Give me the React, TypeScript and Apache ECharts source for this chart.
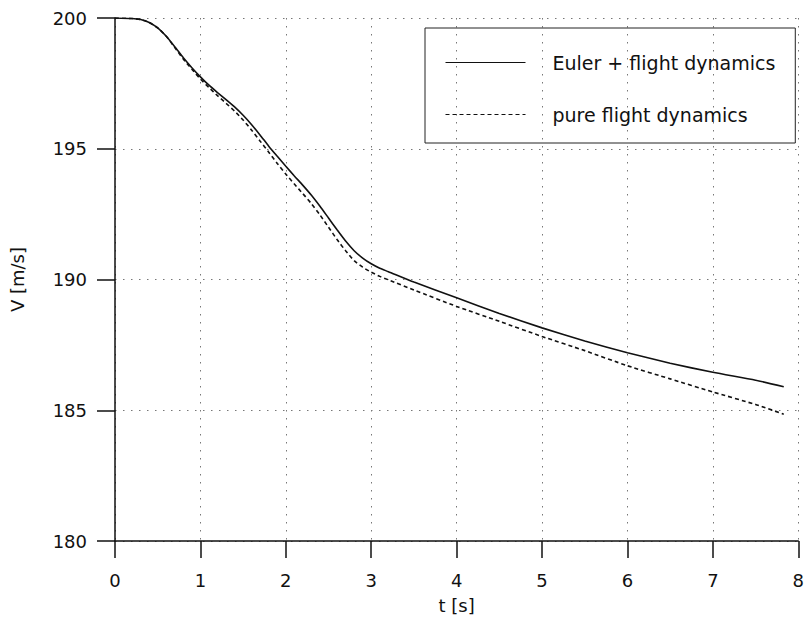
import React, { useEffect, useRef } from "react";
import * as echarts from "echarts";

const tSolid = [0, 0.2, 0.3, 0.4, 0.5, 0.6, 0.7, 0.8, 0.9, 1.0, 1.1, 1.2, 1.3, 1.4, 1.5, 1.6, 1.7, 1.8, 1.9, 2.0, 2.1, 2.2, 2.3, 2.4, 2.5, 2.6, 2.7, 2.8, 2.9, 3.0, 3.1, 3.2, 3.5, 4.0, 4.5, 5.0, 5.5, 6.0, 6.5, 7.0, 7.5, 7.83];
const vSolid = [200, 199.98, 199.94, 199.83, 199.62, 199.3, 198.9, 198.48, 198.1, 197.75, 197.43, 197.15, 196.88, 196.6, 196.28, 195.92, 195.52, 195.1, 194.71, 194.33, 193.96, 193.6, 193.22, 192.8, 192.35, 191.9, 191.47, 191.1, 190.82, 190.6, 190.43, 190.3, 189.9, 189.3, 188.7, 188.15, 187.65, 187.2, 186.8, 186.45, 186.15, 185.9];
const tDashed = [0, 0.2, 0.3, 0.4, 0.5, 0.6, 0.7, 0.8, 0.9, 1.0, 1.1, 1.2, 1.3, 1.4, 1.5, 1.6, 1.7, 1.8, 1.9, 2.0, 2.1, 2.2, 2.3, 2.4, 2.5, 2.6, 2.7, 2.8, 2.9, 3.0, 3.1, 3.2, 3.5, 4.0, 4.5, 5.0, 5.5, 6.0, 6.5, 7.0, 7.5, 7.83];
const vDashed = [200, 199.98, 199.94, 199.83, 199.62, 199.3, 198.87, 198.43, 198.04, 197.67, 197.34, 197.03, 196.74, 196.44, 196.1, 195.71, 195.29, 194.87, 194.44, 194.03, 193.65, 193.28, 192.9, 192.47, 192.0, 191.53, 191.1, 190.72, 190.47, 190.28, 190.12, 189.99, 189.6, 188.97, 188.4, 187.82, 187.28, 186.7, 186.2, 185.7, 185.22, 184.85];
const seriesNames = ["Euler + flight dynamics", "pure flight dynamics"];

const FONT = "DejaVu Sans";

export default function App() {
  const ref = useRef<HTMLDivElement>(null);
  useEffect(() => {
    if (!ref.current) return;
    const chart = echarts.init(ref.current, undefined, { renderer: "svg" });
    const grid = { color: "#777", type: [1.5, 6.5] as any, width: 1 };
    chart.setOption({
      animation: false,
      backgroundColor: "#fff",
      grid: { left: 115, right: 5, top: 18, bottom: 79, containLabel: false },
      legend: {
        left: 425,
        top: 28,
        orient: "vertical",
        padding: [25, 20, 19, 20],
        borderColor: "#222",
        borderWidth: 1,
        itemWidth: 80,
        itemHeight: 17,
        itemGap: 33,
        data: seriesNames,
        lineStyle: { width: 1 },
        itemStyle: { color: "rgba(0,0,0,0)", borderColor: "rgba(0,0,0,0)", borderWidth: 0 },
        textStyle: { fontFamily: FONT, fontSize: 19, color: "#111", padding: [0, 0, 0, 22] },
      },
      xAxis: {
        type: "value",
        min: 0,
        max: 8,
        interval: 1,
        name: "t [s]",
        nameLocation: "middle",
        nameGap: 55,
        nameTextStyle: { fontFamily: FONT, fontSize: 18, color: "#111" },
        axisLine: { show: true, onZero: false, lineStyle: { color: "#111", width: 1.5 } },
        axisTick: { show: true, inside: false, length: 17, lineStyle: { color: "#111", width: 1.5 } },
        axisLabel: { fontFamily: FONT, fontSize: 18, color: "#111", margin: 30 },
        splitLine: { show: true, lineStyle: grid },
      },
      yAxis: {
        type: "value",
        min: 180,
        max: 200,
        interval: 5,
        name: "V [m/s]",
        nameLocation: "middle",
        nameGap: 89,
        nameRotate: 90,
        nameTextStyle: { fontFamily: FONT, fontSize: 18, color: "#111" },
        axisLine: { show: true, onZero: false, lineStyle: { color: "#111", width: 1.5 } },
        axisTick: { show: true, inside: false, length: 18, lineStyle: { color: "#111", width: 1.5 } },
        axisLabel: { fontFamily: FONT, fontSize: 18, color: "#111", margin: 28 },
        splitLine: { show: true, lineStyle: grid },
      },
      series: [
        {
          name: seriesNames[0],
          type: "line",
          data: tSolid.map((t, i) => [t, vSolid[i]]),
          showSymbol: false,
          symbol: "none",
          smooth: 0.2,
          lineStyle: { color: "#111", width: 1.6, type: "solid" },
          itemStyle: { color: "#111" },
        },
        {
          name: seriesNames[1],
          type: "line",
          data: tDashed.map((t, i) => [t, vDashed[i]]),
          showSymbol: false,
          symbol: "none",
          smooth: 0.2,
          lineStyle: { color: "#111", width: 1.6, type: [4, 3] },
          itemStyle: { color: "#111" },
        },
      ],
    });
    return () => chart.dispose();
  }, []);
  return <div ref={ref} style={{ width: 807, height: 620, position: "absolute", left: 0, top: 0 }} />;
}
